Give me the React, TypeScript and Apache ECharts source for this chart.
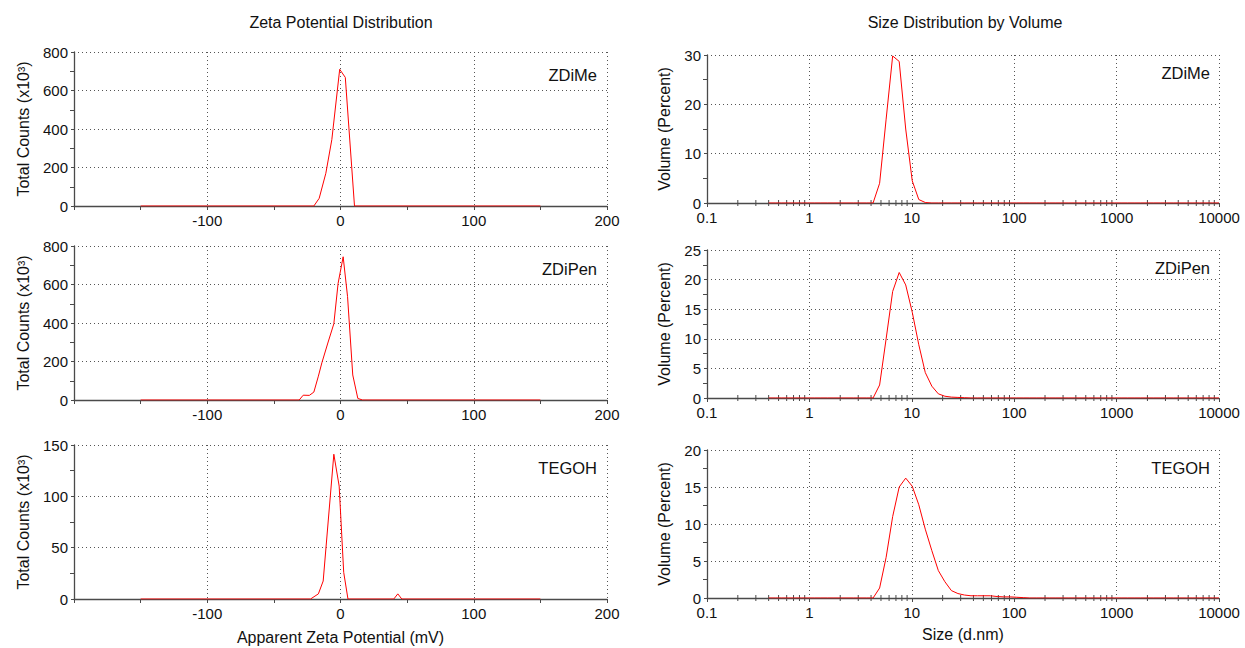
import React, { useEffect, useRef } from "react";
import * as echarts from "echarts";

const FONT = '"Liberation Sans", Arial, Helvetica, sans-serif';

// ---- Zeta potential data: [mV, counts x10^3] ----
const zetaZDiMe: number[][] = [
  [-150, 0], [-20, 0], [-16, 40], [-11, 170], [-6.5, 345], [-0.6, 710], [3.6, 668], [10.5, 0], [150, 0],
];
const zetaZDiPen: number[][] = [
  [-150, 0], [-31, 0], [-28, 25], [-23.4, 24], [-20, 41], [-16.6, 124], [-14, 193], [-9.5, 296], [-5, 396],
  [-1.8, 606], [2, 744], [5.3, 537], [9.2, 130], [13, 8], [16.6, 0], [150, 0],
];
const zetaTEGOH: number[][] = [
  [-150, 0], [-22.5, 0], [-16.6, 5], [-13, 17.5], [-5, 141], [-1, 110], [2.4, 26], [5.6, 0],
  [40, 0], [43, 5], [46, 0], [150, 0],
];

// ---- Size distribution bins (d.nm) and volume % ----
const sizeBins = [
  0.4, 0.4632, 0.5365, 0.6213, 0.7195, 0.8332, 0.9649, 1.117, 1.294, 1.499,
  1.736, 2.01, 2.328, 2.696, 3.122, 3.615, 4.187, 4.849, 5.615, 6.503,
  7.531, 8.721, 10.1, 11.7, 13.54, 15.69, 18.17, 21.04, 24.36, 28.21,
  32.67, 37.84, 43.82, 50.75, 58.77, 68.06, 78.82, 91.28, 105.7, 122.4,
  141.8, 164.2, 190.1, 220.2, 255.0, 295.3, 342.0, 396.1, 458.7, 531.2,
  615.1, 712.4, 825.0, 955.4, 1106, 1281, 1484, 1718, 1990, 2305,
  2669, 3091, 3580, 4145, 4801, 5560, 6439, 7456, 8635, 10000,
];
const volZDiMe = [
  0, 0, 0, 0, 0, 0, 0, 0, 0, 0,
  0, 0, 0, 0, 0, 0, 0, 4.0, 17, 29.8,
  28.7, 15.0, 4.5, 0.7, 0.1, 0, 0, 0, 0, 0,
  0, 0, 0, 0, 0, 0, 0, 0, 0, 0,
  0, 0, 0, 0, 0, 0, 0, 0, 0, 0,
  0, 0, 0, 0, 0, 0, 0, 0, 0, 0,
  0, 0, 0, 0, 0, 0, 0, 0, 0, 0,
];
const volZDiPen = [
  0, 0, 0, 0, 0, 0, 0, 0, 0, 0,
  0, 0, 0, 0, 0, 0, 0, 2.2, 10, 18.0,
  21.2, 19.1, 14.5, 9.0, 4.3, 2.0, 0.7, 0.3, 0.15, 0.1,
  0.05, 0, 0, 0, 0, 0, 0, 0, 0, 0,
  0, 0, 0, 0, 0, 0, 0, 0, 0, 0,
  0, 0, 0, 0, 0, 0, 0, 0, 0, 0,
  0, 0, 0, 0, 0, 0, 0, 0, 0, 0,
];
const volTEGOH = [
  0, 0, 0, 0, 0, 0, 0, 0, 0, 0,
  0, 0, 0, 0, 0, 0, 0, 1.35, 5.5, 11.0,
  15.0, 16.2, 15.1, 12.6, 9.3, 6.4, 3.7, 2.2, 1.0, 0.6,
  0.4, 0.3, 0.3, 0.3, 0.3, 0.2, 0.15, 0.15, 0.1, 0.05,
  0, 0, 0, 0, 0, 0, 0, 0, 0, 0,
  0, 0, 0, 0, 0, 0, 0, 0, 0, 0,
  0, 0, 0, 0, 0, 0, 0, 0, 0, 0,
];

const sampleNames = ["ZDiMe", "ZDiPen", "TEGOH"];
const zetaMax = [800, 800, 150];
const zetaInterval = [200, 200, 50];
const volMax = [30, 25, 20];
const volInterval = [10, 5, 5];
const sizeTickLabels = ["0.1", "1", "10", "100", "1000", "10000"];
const logDecades = [0.1, 1, 10, 100, 1000];
const logMultipliers = [2, 3, 4, 5, 6, 7, 8, 9];

// layout
const leftGrids = [
  { left: 74, top: 52, width: 533, height: 154 },
  { left: 74, top: 246, width: 533, height: 154 },
  { left: 74, top: 445, width: 533, height: 154 },
];
const rightGrids = [
  { left: 707, top: 55, width: 512, height: 148 },
  { left: 707, top: 250, width: 512, height: 148 },
  { left: 707, top: 450, width: 512, height: 148 },
];

const AXIS = "#4a4a4a";
const GRIDC = "#555";
const TXT = "#111";

export default function App() {
  const ref = useRef<HTMLDivElement>(null);
  useEffect(() => {
    document.body.style.margin = "0";
    const chart = echarts.init(ref.current!, null, { renderer: "svg" });
    const zeta = [zetaZDiMe, zetaZDiPen, zetaTEGOH];
    const vols = [volZDiMe, volZDiPen, volTEGOH];
    const minorLog: number[][] = [];
    logDecades.forEach((d) => logMultipliers.forEach((m) => minorLog.push([d * m, 0])));

    const grids: any[] = [];
    const xAxes: any[] = [];
    const yAxes: any[] = [];
    const series: any[] = [];
    const labelStyle = { color: TXT, fontSize: 15, fontFamily: FONT };
    const nameStyle = { color: TXT, fontSize: 16, fontFamily: FONT };

    for (let i = 0; i < 3; i++) {
      grids.push({ ...leftGrids[i], containLabel: false });
      xAxes.push({
        type: "value", gridIndex: i, min: -200, max: 200, interval: 100,
        name: i === 2 ? "Apparent Zeta Potential (mV)" : "",
        nameLocation: "middle", nameGap: 30, nameTextStyle: nameStyle,
        axisLine: { show: true, onZero: false, lineStyle: { color: AXIS, width: 1.3 } },
        axisTick: { show: true, length: 4, lineStyle: { color: AXIS } },
        minorTick: { show: true, splitNumber: 2, length: 4, lineStyle: { color: AXIS } },
        axisLabel: { ...labelStyle, margin: 7, showMinLabel: false },
        splitLine: { show: true, lineStyle: { type: [1, 3], color: GRIDC, width: 1 } },
      });
      yAxes.push({
        type: "value", gridIndex: i, min: 0, max: zetaMax[i], interval: zetaInterval[i],
        name: "Total Counts (x10³)", nameLocation: "middle", nameGap: 43, nameTextStyle: nameStyle,
        axisLine: { show: true, onZero: false, lineStyle: { color: AXIS, width: 1.3 } },
        axisTick: { show: true, length: 3, lineStyle: { color: AXIS } },
        minorTick: { show: true, splitNumber: 2, length: 4, lineStyle: { color: AXIS } },
        axisLabel: { ...labelStyle, margin: 6 },
        splitLine: { show: true, lineStyle: { type: [1, 3], color: GRIDC, width: 1 } },
      });
      series.push({
        type: "line", xAxisIndex: i, yAxisIndex: i, data: zeta[i],
        showSymbol: false, symbol: "none", lineStyle: { color: "#ff0000", width: 1 }, z: 5,
      });
    }
    for (let i = 0; i < 3; i++) {
      const gi = i + 3;
      grids.push({ ...rightGrids[i], containLabel: false });
      xAxes.push({
        type: "log", logBase: 10, gridIndex: gi, min: 0.1, max: 10000, splitNumber: 5,
        name: i === 2 ? "Size (d.nm)" : "",
        nameLocation: "middle", nameGap: 28, nameTextStyle: nameStyle,
        axisLine: { show: true, onZero: false, lineStyle: { color: AXIS, width: 1.3 } },
        axisTick: { show: true, length: 4, lineStyle: { color: AXIS } },
        minorTick: { show: false },
        axisLabel: {
          ...labelStyle, margin: 7,
          formatter: (v: number) => sizeTickLabels[Math.round(Math.log10(v)) + 1] ?? "",
        },
        splitLine: { show: true, lineStyle: { type: [1, 3], color: GRIDC, width: 1 } },
      });
      yAxes.push({
        type: "value", gridIndex: gi, min: 0, max: volMax[i], interval: volInterval[i],
        name: "Volume (Percent)", nameLocation: "middle", nameGap: 35, nameTextStyle: nameStyle,
        axisLine: { show: true, onZero: false, lineStyle: { color: AXIS, width: 1.3 } },
        axisTick: { show: true, length: 3, lineStyle: { color: AXIS } },
        minorTick: { show: true, splitNumber: 2, length: 4, lineStyle: { color: AXIS } },
        axisLabel: { ...labelStyle, margin: 6 },
        splitLine: { show: true, lineStyle: { type: [1, 3], color: GRIDC, width: 1 } },
      });
      series.push({
        type: "custom", xAxisIndex: gi, yAxisIndex: gi, data: minorLog, silent: true, clip: false, z: 1,
        renderItem: (_p: any, api: any) => {
          const pt = api.coord([api.value(0), api.value(1)]);
          return {
            type: "line",
            shape: { x1: pt[0], y1: pt[1] - 3, x2: pt[0], y2: pt[1] + 3 },
            style: { stroke: AXIS, lineWidth: 1 },
          };
        },
      });
      series.push({
        type: "line", xAxisIndex: gi, yAxisIndex: gi,
        data: sizeBins.map((s, k) => [s, vols[i][k]]),
        showSymbol: false, symbol: "none", lineStyle: { color: "#ff0000", width: 1 }, z: 5,
      });
    }

    const graphics: any[] = [
      { type: "text", x: 341, y: 22, style: { text: "Zeta Potential Distribution", font: `16px ${FONT}`, fill: TXT, align: "center", verticalAlign: "middle" } },
      { type: "text", x: 965, y: 22, style: { text: "Size Distribution by Volume", font: `16px ${FONT}`, fill: TXT, align: "center", verticalAlign: "middle" } },
    ];
    const leftLabelY = [75, 269, 468];
    const rightLabelY = [73, 268, 468];
    for (let i = 0; i < 3; i++) {
      graphics.push({ type: "text", x: 597, y: leftLabelY[i], style: { text: sampleNames[i], font: `16.5px ${FONT}`, fill: TXT, align: "right", verticalAlign: "middle" } });
      graphics.push({ type: "text", x: 1210, y: rightLabelY[i], style: { text: sampleNames[i], font: `16.5px ${FONT}`, fill: TXT, align: "right", verticalAlign: "middle" } });
    }

    chart.setOption({
      animation: false,
      backgroundColor: "#ffffff",
      textStyle: { fontFamily: FONT },
      grid: grids,
      xAxis: xAxes,
      yAxis: yAxes,
      series,
      graphic: graphics,
    });
    return () => chart.dispose();
  }, []);
  return <div ref={ref} style={{ width: 1245, height: 648 }} />;
}
